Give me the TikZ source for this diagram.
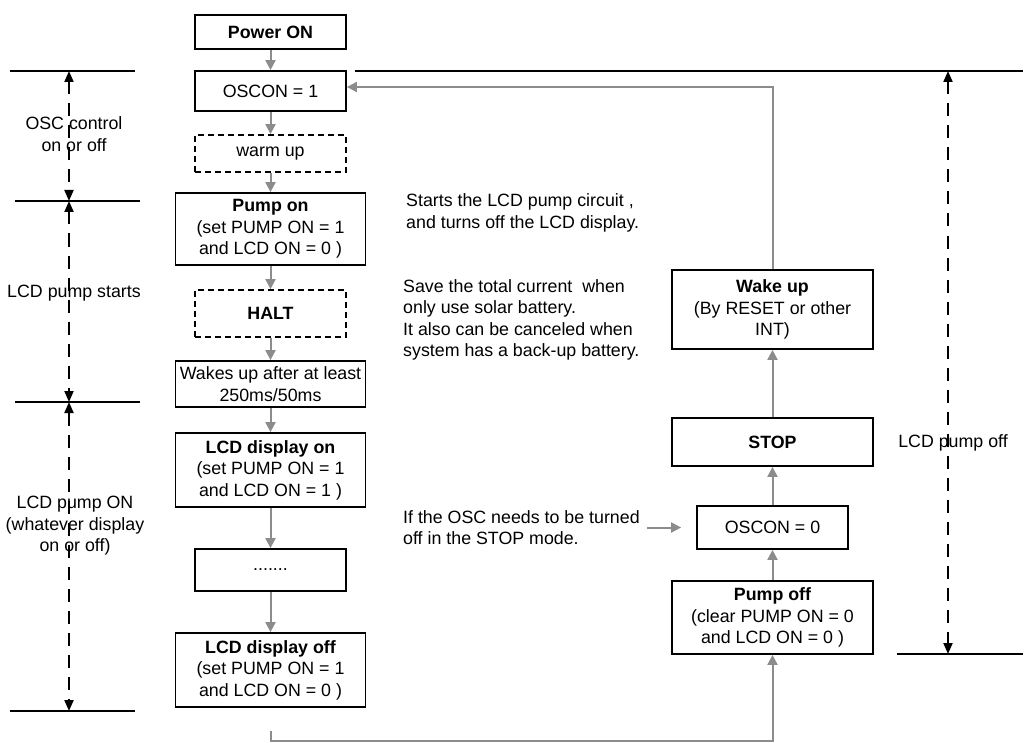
\documentclass[tikz,border=0pt]{standalone}
\usepackage{fontspec}
\setmainfont{Liberation Sans}
\usetikzlibrary{arrows.meta,calc}
\definecolor{arrgray}{RGB}{140,140,140}
\begin{document}
\begin{tikzpicture}[x=1pt,y=-1pt,
  every node/.style={font=\fontsize{17.8}{21.5}\selectfont, inner sep=0pt, align=center},
  boxline/.style={draw=black, line width=1.8pt},
  sbox/.style={boxline, minimum width=151pt},
  bbox/.style={boxline, minimum width=190pt},
  rbox/.style={boxline, minimum width=201pt},
  dbox/.style={sbox, dash pattern=on 6pt off 4pt},
  garr/.style={draw=arrgray, line width=2pt, -{Triangle[length=10pt,width=10pt]}},
  dimarr/.style={draw=black, line width=2pt, dash pattern=on 13pt off 9pt,
     {Triangle[length=11pt,width=9pt]}-{Triangle[length=11pt,width=9pt]}},
  thinline/.style={draw=black, line width=1.3pt},
  note/.style={align=left, anchor=west}
]
\useasboundingbox (0,0) rectangle (1024,743);

% left column
\node[sbox, minimum height=34pt] (pwr) at (270.5,32) {\textbf{Power ON}};
\node[sbox, minimum height=40pt] (osc1) at (270.5,91) {OSCON = 1};
\node[dbox, minimum height=37pt] (warm) at (270.5,153.5) {warm up};
\node[bbox, minimum height=72pt] (pumpon) at (270.5,229) {\textbf{Pump on}\\(set PUMP ON = 1\\and LCD ON = 0 )};
\node[dbox, minimum height=47pt] (halt) at (270.5,313.5) {\textbf{HALT}};
\node[bbox, minimum height=46pt] (wakes) at (270.5,384) {Wakes up after at least\\250ms/50ms};
\node[bbox, minimum height=74pt] (lcdon) at (270.5,470) {\textbf{LCD display on}\\(set PUMP ON = 1\\and LCD ON = 1 )};
\node[sbox, minimum height=42pt] (dots) at (270.5,570) {.......};
\node[bbox, minimum height=74pt] (lcdoff) at (270.5,670) {\textbf{LCD display off}\\(set PUMP ON = 1\\and LCD ON = 0 )};

% right column
\node[rbox, minimum height=73pt] (pumpoff) at (772.5,617.5) {\textbf{Pump off}\\(clear PUMP ON = 0\\and LCD ON = 0 )};
\node[sbox, minimum height=43pt] (osc0) at (772.5,527.5) {OSCON = 0};
\node[rbox, minimum height=48pt] (stop) at (772.5,442) {\textbf{STOP}};
\node[rbox, minimum height=79pt] (wake) at (772.5,309.5) {\textbf{Wake up}\\(By RESET or other\\INT)};

% notes
\node[note] (n1) at (406,213) {Starts the LCD pump circuit ,\\and turns off the LCD display.};
\node[note] (n2) at (403,320) {Save the total current\ \ when\\only use solar battery.\\It also can be canceled when\\system has a back-up battery.};
\node[note] (n3) at (403,527.5) {If the OSC needs to be turned\\off in the STOP mode.};

% side labels
\node (l1) at (74,134) {OSC control\\on or off};
\node (l2) at (74,293) {LCD pump starts};
\node (l3) at (75,526) {LCD pump ON\\(whatever display\\on or off)};
\node (l4) at (953,443) {LCD pump off};

% flow arrows
\draw[garr] (pwr) -- (osc1);
\draw[garr] (osc1) -- (warm);
\draw[garr] (warm) -- (pumpon);
\draw[garr] (pumpon) -- (halt);
\draw[garr] (halt) -- (wakes);
\draw[garr] (wakes) -- (lcdon);
\draw[garr] (lcdon) -- (dots);
\draw[garr] (dots) -- (lcdoff);
\coordinate (bstart) at (270.5,731);
\draw[garr] (bstart) -- (270.5,741) -| (pumpoff.south);
\draw[garr] (pumpoff) -- (osc0);
\draw[garr] (osc0) -- (stop);
\draw[garr] (stop) -- (wake);
\draw[garr] (wake.north) -- (wake.north |- 0,87) -- (osc1.east |- 0,87);
\coordinate (ifa) at (647,527.5);
\draw[garr, shorten >=15pt] (ifa) -- (osc0.west);

% dimension lines left
\draw[thinline] (10,71) -- (135,71);
\draw[thinline] (15,201) -- (140,201);
\draw[thinline] (15,402) -- (140,402);
\draw[thinline] (10,711) -- (135,711);
\coordinate (d1) at (69,71);
\coordinate (d2) at (69,201);
\coordinate (d3) at (69,402);
\coordinate (d4) at (69,711);
\draw[dimarr] (d1) -- (d2);
\draw[dimarr] (d2) -- (d3);
\draw[dimarr] (d3) -- (d4);

% dimension lines right
\draw[thinline] (355,71) -- (1023,71);
\draw[thinline] (897,654) -- (1023,654);
\coordinate (r1) at (948,71);
\coordinate (r2) at (948,654);
\draw[dimarr] (r1) -- (r2);
\end{tikzpicture}
\end{document}
